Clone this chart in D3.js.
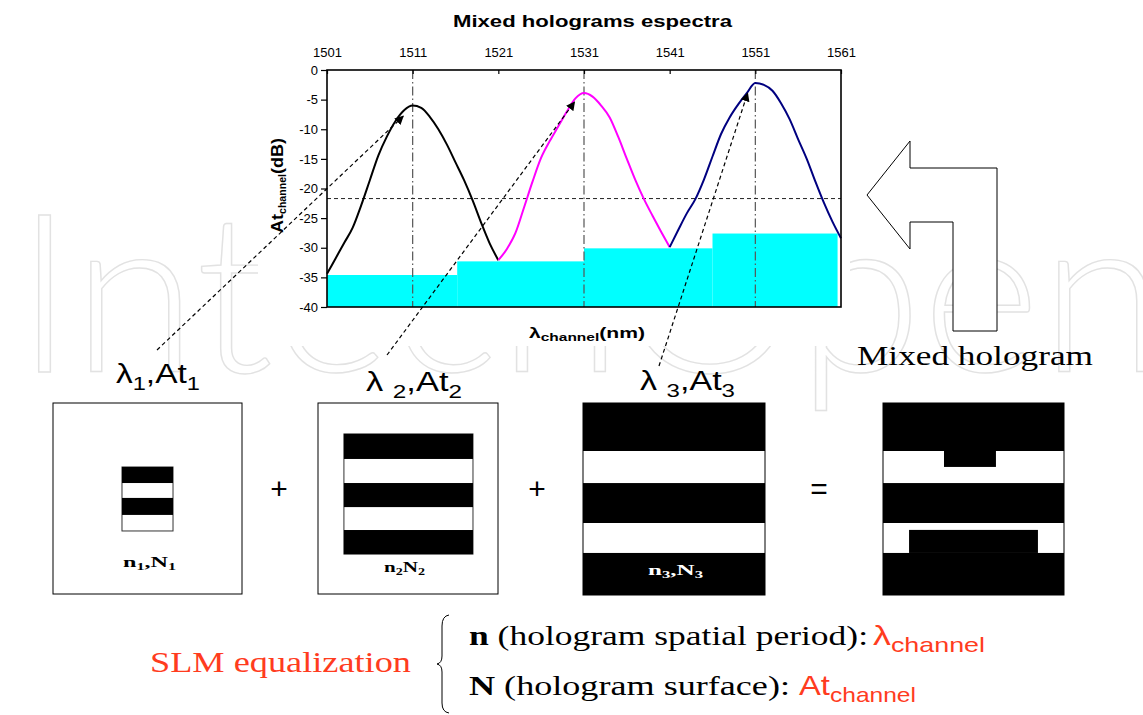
<!DOCTYPE html>
<html>
<head>
<meta charset="utf-8">
<script src="https://cdn.jsdelivr.net/npm/d3@7"></script>
<style>
  body { margin: 0; background: #fff; }
  svg { display: block; }
</style>
</head>
<body>
<div id="id_chart"></div>
<script>
// chart values
const title_text = "Mixed holograms espectra";
const x_ticks = [1501, 1511, 1521, 1531, 1541, 1551, 1561];
const y_ticks = [0, -5, -10, -15, -20, -25, -30, -35, -40];
const grid_nm = [1511, 1531, 1551];
const threshold_db = -21.7;

const black_nm = [1501, 1502, 1503, 1504, 1505, 1506, 1507, 1508, 1509, 1510, 1511, 1512, 1513, 1514, 1515, 1516, 1517, 1518, 1519, 1520, 1521];
const black_db = [-34.4, -31.8, -29.2, -26.6, -22.8, -18.6, -14.4, -11.2, -8.6, -6.8, -6.0, -6.4, -7.9, -10.0, -12.6, -15.6, -18.6, -22.0, -25.8, -29.3, -32.1];
const magenta_nm = [1521, 1522, 1523, 1524, 1525, 1526, 1527, 1528, 1529, 1530, 1531, 1532, 1533, 1534, 1535, 1536, 1537, 1538, 1539, 1540, 1541];
const magenta_db = [-32.1, -30.2, -27.5, -23.2, -18.8, -14.8, -12.0, -9.5, -7.0, -4.8, -3.9, -4.5, -6.0, -8.0, -11.3, -15.0, -18.6, -21.8, -24.6, -27.3, -29.9];
const blue_nm = [1541, 1542, 1543, 1544, 1545, 1546, 1547, 1548, 1549, 1550, 1551, 1552, 1553, 1554, 1555, 1556, 1557, 1558, 1559, 1560, 1561];
const blue_db = [-29.9, -27.0, -24.2, -21.8, -18.5, -14.6, -10.8, -8.0, -5.8, -3.9, -2.2, -2.5, -3.5, -5.6, -8.3, -11.7, -15.0, -18.8, -22.4, -25.6, -28.4];

const step_start_nm = [1501, 1516.2, 1531, 1546.0];
const step_end_nm = [1516.2, 1531, 1546.0, 1560.6];
const step_level_db = [-34.6, -32.3, -30.1, -27.6];

// arrow tips near each peak (nm, dB)
const arrow_tip_nm = [1509.9, 1529.9, 1550.1];
const arrow_tip_db = [-7.8, -5.4, -3.9];

// hologram patterns, black rectangles in unit box coords [x0, x1, y0, y1]
const holo1_black = [[0.365, 0.635, 0.335, 0.419], [0.365, 0.635, 0.497, 0.586]];
const holo1_frame = [0.365, 0.635, 0.335, 0.670];
const holo2_black = [[0.144, 0.861, 0.162, 0.293], [0.144, 0.861, 0.419, 0.545], [0.144, 0.861, 0.665, 0.791]];
const holo2_frame = [0.144, 0.861, 0.162, 0.791];
const holo3_black = [[0, 1, 0, 0.25], [0, 1, 0.417, 0.625], [0, 1, 0.781, 1]];
const holo4_black = [[0, 1, 0, 0.25], [0.337, 0.624, 0.25, 0.333], [0, 1, 0.417, 0.625], [0.144, 0.856, 0.661, 0.781], [0, 1, 0.781, 1]];

const red = "#ff3c1e";
const sans = "'Liberation Sans', Arial, sans-serif";
const serif = "'Liberation Serif', 'Times New Roman', serif";

const width = 1143, height = 715;
var svg = d3.select("#id_chart").append("svg")
    .attr("width", width).attr("height", height);

// defs: arrow head
svg.append("defs").append("marker")
    .attr("id", "arrow_head")
    .attr("viewBox", "0 0 10 10")
    .attr("refX", 9).attr("refY", 5)
    .attr("markerWidth", 9).attr("markerHeight", 9)
    .attr("markerUnits", "userSpaceOnUse")
    .attr("orient", "auto")
    .append("path").attr("d", "M0,0 L10,5 L0,10 z").attr("fill", "black");

// faint watermark behind everything
svg.append("text")
    .attr("x", 15).attr("y", 372)
    .attr("textLength", 1150).attr("lengthAdjust", "spacingAndGlyphs")
    .style("font-family", "Lato, 'Open Sans', sans-serif")
    .style("font-weight", 300)
    .style("font-size", "222px")
    .attr("fill", "none").attr("stroke", "#e2e2e2").attr("stroke-width", 1.4)
    .text("IntechOpen");

// white backdrop of the chart picture
svg.append("rect").attr("x", 258).attr("y", 0).attr("width", 592).attr("height", 346).attr("fill", "white");

// ---------- spectra chart ----------
var x = d3.scaleLinear().domain([1501, 1561]).range([327, 841]);
var y = d3.scaleLinear().domain([0, -40]).range([70, 307]);

svg.append("text")
    .attr("x", 453).attr("y", 27)
    .attr("textLength", 279).attr("lengthAdjust", "spacingAndGlyphs")
    .style("font-family", sans).style("font-weight", "bold").style("font-size", "17px")
    .text(title_text);

var plot = svg.append("g").attr("id", "id_g_plot");

// cyan equalization steps
plot.selectAll("rect.step")
    .data(step_level_db)
    .enter().append("rect")
    .attr("class", "step")
    .attr("x", (d, i) => x(step_start_nm[i]))
    .attr("width", (d, i) => x(step_end_nm[i]) - x(step_start_nm[i]))
    .attr("y", d => y(d))
    .attr("height", d => y(-40) - y(d))
    .attr("fill", "#00ffff");

// dash-dot vertical grid lines
plot.selectAll("line.grid")
    .data(grid_nm)
    .enter().append("line")
    .attr("x1", d => x(d)).attr("x2", d => x(d))
    .attr("y1", y(0)).attr("y2", y(-40))
    .attr("stroke", "#555").attr("stroke-width", 1.2)
    .attr("stroke-dasharray", "9,3,1.5,3");

// dashed threshold
plot.append("line")
    .attr("x1", x(1501)).attr("x2", x(1561))
    .attr("y1", y(threshold_db)).attr("y2", y(threshold_db))
    .attr("stroke", "#222").attr("stroke-width", 1)
    .attr("stroke-dasharray", "4,3");

// spectra
var line = d3.line()
    .x(d => x(d[0])).y(d => y(d[1]))
    .curve(d3.curveMonotoneX);
var series = [
    { nm: black_nm, db: black_db, color: "#000000" },
    { nm: magenta_nm, db: magenta_db, color: "#ff00ff" },
    { nm: blue_nm, db: blue_db, color: "#000080" }
];
plot.selectAll("path.spectrum")
    .data(series)
    .enter().append("path")
    .attr("d", s => line(s.nm.map((v, i) => [v, s.db[i]])))
    .attr("fill", "none")
    .attr("stroke", s => s.color)
    .attr("stroke-width", 2);

// frame
plot.append("rect")
    .attr("x", x(1501)).attr("y", y(0))
    .attr("width", x(1561) - x(1501)).attr("height", y(-40) - y(0))
    .attr("fill", "none").attr("stroke", "black").attr("stroke-width", 1.6);

// axes
var x_axis = svg.append("g")
    .attr("transform", "translate(0," + y(0) + ")")
    .call(d3.axisTop(x).tickValues(x_ticks).tickFormat(d3.format("d")).tickSize(-4).tickPadding(13));
var y_axis = svg.append("g")
    .attr("transform", "translate(" + x(1501) + ",0)")
    .call(d3.axisLeft(y).tickValues(y_ticks).tickFormat(d => d === 0 ? "0" : String(d)).tickSize(6).tickPadding(3));
[x_axis, y_axis].forEach(function (a) {
    a.select(".domain").remove();
    a.selectAll(".tick line").attr("stroke", "black").attr("stroke-width", 1.2);
    a.selectAll("text").style("font-family", sans).style("font-size", "13px").attr("fill", "black");
});
x_axis.selectAll("text").attr("dy", "0em");

// axis titles
var y_title = svg.append("text")
    .attr("transform", "translate(283,233) rotate(-90)")
    .attr("textLength", 95).attr("lengthAdjust", "spacingAndGlyphs")
    .style("font-family", sans).style("font-weight", "bold").style("font-size", "17px");
y_title.append("tspan").text("At");
y_title.append("tspan").style("font-size", "10px").attr("dy", 3).text("channel");
y_title.append("tspan").attr("dy", -3).text("(dB)");

var x_title = svg.append("text")
    .attr("x", 529).attr("y", 338)
    .attr("textLength", 116).attr("lengthAdjust", "spacingAndGlyphs")
    .style("font-family", sans).style("font-weight", "bold").style("font-size", "15px");
x_title.append("tspan").text("λ");
x_title.append("tspan").style("font-size", "11px").attr("dy", 3).text("channel");
x_title.append("tspan").attr("dy", -3).text("(nm)");

// ---------- wavelength labels + dashed arrows ----------
const labels = [
    { sub: "1", gap: "", x: 116, y: 383, len: 84, ax: 157, ay: 350 },
    { sub: "2", gap: " ", x: 366, y: 391, len: 96, ax: 387, ay: 355 },
    { sub: "3", gap: " ", x: 640, y: 390, len: 95, ax: 659, ay: 366 }
];
labels.forEach(function (l, i) {
    var t = svg.append("text")
        .attr("x", l.x).attr("y", l.y)
        .attr("textLength", l.len).attr("lengthAdjust", "spacingAndGlyphs")
        .style("font-family", sans).style("font-size", "27px");
    t.append("tspan").text("λ" + l.gap);
    t.append("tspan").style("font-size", "19px").attr("dy", 7).text(l.sub);
    t.append("tspan").attr("dy", -7).text(",At");
    t.append("tspan").style("font-size", "19px").attr("dy", 7).text(l.sub);

    svg.append("line")
        .attr("x1", l.ax).attr("y1", l.ay)
        .attr("x2", x(arrow_tip_nm[i])).attr("y2", y(arrow_tip_db[i]))
        .attr("stroke", "black").attr("stroke-width", 1.2)
        .attr("stroke-dasharray", "4,3")
        .attr("marker-end", "url(#arrow_head)");
});

// ---------- bent arrow + mixed hologram label ----------
svg.append("path")
    .attr("d", "M867,195 L910,141 L910,168 L997,168 L997,331 L953,331 L953,222 L910,222 L910,249 Z")
    .attr("fill", "white").attr("stroke", "black").attr("stroke-width", 1);
svg.append("text")
    .attr("x", 857).attr("y", 365)
    .attr("textLength", 236).attr("lengthAdjust", "spacingAndGlyphs")
    .style("font-family", serif).style("font-size", "27px")
    .text("Mixed hologram");

// ---------- holograms ----------
const boxes = [
    { x: 53, y: 403, w: 189, h: 191, bg: "white", black: holo1_black, frame: holo1_frame },
    { x: 318, y: 403, w: 180, h: 191, bg: "white", black: holo2_black, frame: holo2_frame },
    { x: 583, y: 403, w: 182, h: 192, bg: "white", black: holo3_black, frame: null },
    { x: 883, y: 403, w: 181, h: 192, bg: "white", black: holo4_black, frame: null }
];
boxes.forEach(function (b) {
    var bx = d3.scaleLinear().domain([0, 1]).range([b.x, b.x + b.w]);
    var by = d3.scaleLinear().domain([0, 1]).range([b.y, b.y + b.h]);
    var g = svg.append("g");
    g.append("rect").attr("x", b.x).attr("y", b.y).attr("width", b.w).attr("height", b.h)
        .attr("fill", b.bg).attr("stroke", "black").attr("stroke-width", 1);
    if (b.frame) {
        g.append("rect")
            .attr("x", bx(b.frame[0])).attr("y", by(b.frame[2]))
            .attr("width", bx(b.frame[1]) - bx(b.frame[0])).attr("height", by(b.frame[3]) - by(b.frame[2]))
            .attr("fill", "white").attr("stroke", "#333").attr("stroke-width", 1);
    }
    g.selectAll("rect.bar")
        .data(b.black)
        .enter().append("rect")
        .attr("class", "bar")
        .attr("x", d => bx(d[0])).attr("y", d => by(d[2]))
        .attr("width", d => bx(d[1]) - bx(d[0])).attr("height", d => by(d[3]) - by(d[2]))
        .attr("fill", "black");
});

// hologram captions
const captions = [
    { n: "1", comma: ",", x: 123, y: 567, len: 53, color: "black" },
    { n: "2", comma: "", x: 384, y: 572, len: 41, color: "black" },
    { n: "3", comma: ",", x: 648, y: 575, len: 55, color: "white" }
];
captions.forEach(function (c) {
    var t = svg.append("text")
        .attr("x", c.x).attr("y", c.y)
        .attr("textLength", c.len).attr("lengthAdjust", "spacingAndGlyphs")
        .style("font-family", serif).style("font-weight", "bold").style("font-size", "15px")
        .attr("fill", c.color);
    t.append("tspan").text("n");
    t.append("tspan").style("font-size", "10px").attr("dy", 3).text(c.n);
    t.append("tspan").attr("dy", -3).text(c.comma + "N");
    t.append("tspan").style("font-size", "10px").attr("dy", 3).text(c.n);
});

// operators
[["+", 279], ["+", 537], ["=", 819]].forEach(function (o) {
    svg.append("text")
        .attr("x", o[1]).attr("y", 499)
        .attr("text-anchor", "middle")
        .style("font-family", sans).style("font-size", "30px")
        .text(o[0]);
});

// ---------- bottom legend ----------
svg.append("text")
    .attr("x", 150).attr("y", 672)
    .attr("textLength", 261).attr("lengthAdjust", "spacingAndGlyphs")
    .style("font-family", serif).style("font-size", "30px")
    .attr("fill", red)
    .text("SLM equalization");

svg.append("path")
    .attr("d", "M449,615 Q442,616 442,626 L442,656 Q442,663 437,664 Q442,665 442,672 L442,703 Q442,712 449,713")
    .attr("fill", "none").attr("stroke", "black").attr("stroke-width", 1);

const legend_rows = [
    { key: "n", text: " (hologram spatial period): ", y: 645, len: 399, sym: "λ", sx: 873, slen: 112 },
    { key: "N", text: " (hologram surface): ", y: 695, len: 321, sym: "At", sx: 799, slen: 117 }
];
legend_rows.forEach(function (r) {
    var t = svg.append("text")
        .attr("x", 469).attr("y", r.y)
        .attr("textLength", r.len).attr("lengthAdjust", "spacingAndGlyphs")
        .style("font-family", serif).style("font-size", "28px");
    t.append("tspan").style("font-weight", "bold").text(r.key);
    t.append("tspan").text(r.text.trimEnd());
    var s = svg.append("text")
        .attr("x", r.sx).attr("y", r.y)
        .attr("textLength", r.slen).attr("lengthAdjust", "spacingAndGlyphs")
        .style("font-family", sans).style("font-size", "28px")
        .attr("fill", red);
    s.append("tspan").text(r.sym);
    s.append("tspan").style("font-size", "21px").attr("dy", 7).text("channel");
});
</script>
</body>
</html>
